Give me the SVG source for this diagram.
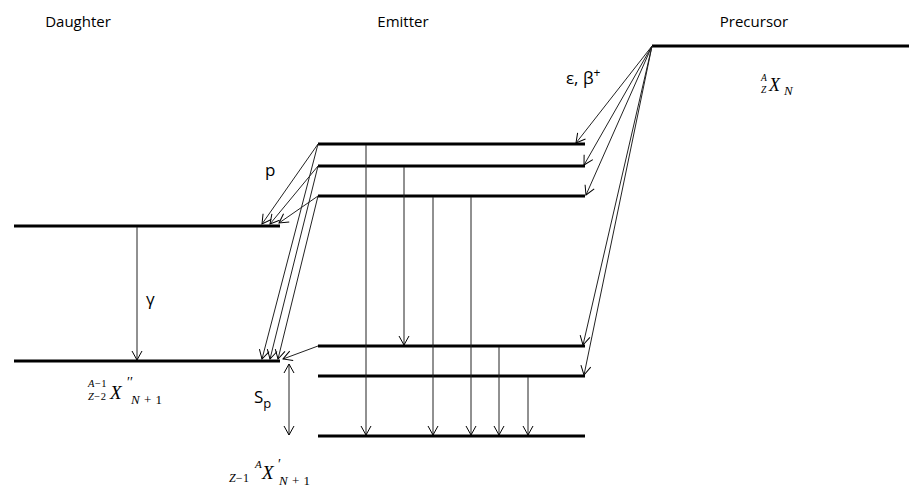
<svg xmlns="http://www.w3.org/2000/svg" width="909" height="489" viewBox="0 0 909 489">
<defs>
<marker id="ah" markerUnits="userSpaceOnUse" markerWidth="12" markerHeight="12" refX="9" refY="5" orient="auto" overflow="visible">
<path d="M0,0 L9,5 L0,10" fill="none" stroke="#000" stroke-width="1"/>
</marker>
<marker id="ahs" markerUnits="userSpaceOnUse" markerWidth="12" markerHeight="12" refX="0" refY="5" orient="auto" overflow="visible">
<path d="M9,0 L0,5 L9,10" fill="none" stroke="#000" stroke-width="1"/>
</marker>
<style>
.lvl{stroke:#000;stroke-width:3;fill:none}
.arr{stroke:#222;stroke-width:1;fill:none;marker-end:url(#ah)}
.hdr{font-family:"Open Sans","Liberation Sans",sans-serif;font-size:15px;fill:#000}
.lab{font-family:"Open Sans","Liberation Sans",sans-serif;font-size:17px;fill:#000}
.m{font-family:"Liberation Serif","DejaVu Serif",serif;fill:#000}
.mi{font-family:"Liberation Serif","DejaVu Serif",serif;font-style:italic;fill:#000}
</style>
</defs>
<rect width="909" height="489" fill="#fff"/>

<g id="headers">
<text class="hdr" x="78" y="27" text-anchor="middle">Daughter</text>
<text class="hdr" x="403" y="27" text-anchor="middle">Emitter</text>
<text class="hdr" x="754" y="27" text-anchor="middle">Precursor</text>
</g>

<g id="precursor">
<line class="lvl" x1="652" y1="46" x2="909" y2="46"/>
<text class="mi" x="761" y="81" font-size="9.5">A</text>
<text class="mi" x="761" y="93" font-size="9.5">Z</text>
<text class="mi" x="769" y="91" font-size="18">X</text>
<text class="mi" x="784" y="95" font-size="13">N</text>
</g>

<g id="emitter">
<line class="lvl" x1="318" y1="144" x2="585" y2="144"/>
<line class="lvl" x1="318" y1="166" x2="585" y2="166"/>
<line class="lvl" x1="318" y1="196" x2="585" y2="196"/>
<line class="lvl" x1="318" y1="346" x2="585" y2="346"/>
<line class="lvl" x1="318" y1="376" x2="585" y2="376"/>
<line class="lvl" x1="318" y1="436" x2="585" y2="436"/>
<text x="229" y="482" font-size="12"><tspan class="mi">Z</tspan><tspan class="m" letter-spacing="0.5">−1</tspan></text>
<text class="mi" x="255" y="468" font-size="11">A</text>
<text class="mi" x="262" y="479" font-size="19">X</text>
<text class="m" x="278" y="469" font-size="14">′</text>
<text x="279" y="485" font-size="13" letter-spacing="0.5"><tspan class="mi">N</tspan><tspan class="m"> + 1</tspan></text>
</g>

<g id="daughter">
<line class="lvl" x1="14" y1="226" x2="280" y2="226"/>
<line class="lvl" x1="14" y1="361" x2="280" y2="361"/>
<text x="88" y="387" font-size="10.5" letter-spacing="0.5"><tspan class="mi">A</tspan><tspan class="m">−1</tspan></text>
<text x="88" y="400" font-size="10.5" letter-spacing="0.5"><tspan class="mi">Z</tspan><tspan class="m">−2</tspan></text>
<text class="mi" x="110" y="399" font-size="19">X</text>
<text class="m" x="127" y="387" font-size="14">′′</text>
<text x="131" y="404" font-size="13" letter-spacing="0.5"><tspan class="mi">N</tspan><tspan class="m"> + 1</tspan></text>
</g>

<g id="labels">
<text class="lab" x="566" y="84" font-size="18">ε, β<tspan font-size="12" dy="-7">+</tspan></text>
<text class="lab" x="265" y="176" font-size="18">p</text>
<text class="lab" x="146" y="305">γ</text>
<text class="lab" x="254" y="403" font-size="17">S<tspan font-size="13" dy="5">p</tspan></text>
</g>

<g id="connectors">
<line class="arr" x1="652" y1="46" x2="576" y2="143"/>
<line class="arr" x1="652" y1="46" x2="584" y2="165"/>
<line class="arr" x1="652" y1="46" x2="586" y2="195"/>
<line class="arr" x1="652" y1="46" x2="583" y2="345"/>
<line class="arr" x1="652" y1="46" x2="584" y2="375"/>

<line class="arr" x1="318" y1="144" x2="262" y2="224"/>
<line class="arr" x1="318" y1="166" x2="270" y2="224"/>
<line class="arr" x1="318" y1="196" x2="279" y2="223"/>
<line class="arr" x1="318" y1="144" x2="262" y2="359"/>
<line class="arr" x1="318" y1="166" x2="270" y2="359"/>
<line class="arr" x1="318" y1="196" x2="278" y2="359"/>
<line class="arr" x1="318" y1="346" x2="283" y2="359"/>

<line class="arr" x1="137" y1="227" x2="137" y2="360"/>

<line class="arr" x1="366" y1="145" x2="366" y2="435"/>
<line class="arr" x1="404" y1="167" x2="404" y2="345"/>
<line class="arr" x1="433" y1="197" x2="433" y2="435"/>
<line class="arr" x1="471" y1="197" x2="471" y2="435"/>
<line class="arr" x1="499" y1="347" x2="499" y2="435"/>
<line class="arr" x1="528" y1="377" x2="528" y2="435"/>

<line class="arr" x1="289" y1="364" x2="289" y2="435" marker-start="url(#ahs)"/>
</g>
</svg>
